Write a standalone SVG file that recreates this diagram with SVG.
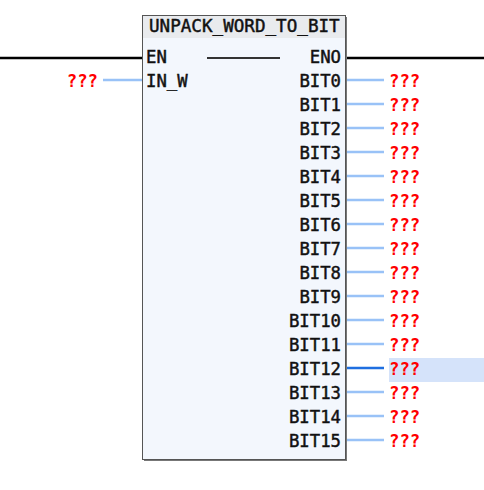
<svg xmlns="http://www.w3.org/2000/svg" width="484" height="490" viewBox="0 0 484 490">
<style>
.t{font-family:"DejaVu Sans Mono","Liberation Mono",monospace;font-size:17.3px;fill:#111;stroke:#111;stroke-width:0.45}
.q{font-family:"DejaVu Sans Mono","Liberation Mono",monospace;font-size:17.3px;fill:#f00;font-weight:bold}
.r{text-anchor:end}
.w{stroke:#99c2f7;stroke-width:2.5;fill:none}
.p{stroke:#000;stroke-width:2.5;fill:none}
</style>
<rect width="484" height="490" fill="#fff"/>
<g id="connectors">
<line class="p" x1="0" y1="58" x2="142" y2="58"/>
<line class="p" x1="346" y1="58" x2="484" y2="58"/>
<line class="w" x1="103" y1="80" x2="142" y2="80"/>
<line class="w" x1="346" y1="80" x2="384" y2="80"/>
<line class="w" x1="346" y1="104" x2="384" y2="104"/>
<line class="w" x1="346" y1="128" x2="384" y2="128"/>
<line class="w" x1="346" y1="152" x2="384" y2="152"/>
<line class="w" x1="346" y1="176" x2="384" y2="176"/>
<line class="w" x1="346" y1="200" x2="384" y2="200"/>
<line class="w" x1="346" y1="224" x2="384" y2="224"/>
<line class="w" x1="346" y1="248" x2="384" y2="248"/>
<line class="w" x1="346" y1="272" x2="384" y2="272"/>
<line class="w" x1="346" y1="296" x2="384" y2="296"/>
<line class="w" x1="346" y1="320" x2="384" y2="320"/>
<line class="w" x1="346" y1="344" x2="384" y2="344"/>
<line x1="346" y1="368" x2="384" y2="368" stroke="#1f6fe0" stroke-width="2.5"/>
<line class="w" x1="346" y1="392" x2="384" y2="392"/>
<line class="w" x1="346" y1="416" x2="384" y2="416"/>
<line class="w" x1="346" y1="440" x2="384" y2="440"/>
</g>
<g id="block">
<rect x="144" y="17" width="203" height="444" fill="#777"/>
<rect x="142.5" y="15.5" width="203" height="444" fill="#f3f7fd" stroke="#555" stroke-width="1"/>
<rect x="143" y="16" width="202" height="22" fill="#e9ebee"/>
<text class="t" x="149" y="32" style="font-size:17.6px">UNPACK_WORD_TO_BIT</text>
<line x1="207" y1="58" x2="280" y2="58" stroke="#333" stroke-width="2"/>
<text class="t" x="146" y="63">EN</text>
<text class="t" x="146" y="87">IN_W</text>
<text class="t r" x="341" y="63">ENO</text>
<text class="t r" x="341" y="87">BIT0</text>
<text class="t r" x="341" y="111">BIT1</text>
<text class="t r" x="341" y="135">BIT2</text>
<text class="t r" x="341" y="159">BIT3</text>
<text class="t r" x="341" y="183">BIT4</text>
<text class="t r" x="341" y="207">BIT5</text>
<text class="t r" x="341" y="231">BIT6</text>
<text class="t r" x="341" y="255">BIT7</text>
<text class="t r" x="341" y="279">BIT8</text>
<text class="t r" x="341" y="303">BIT9</text>
<text class="t r" x="341" y="327">BIT10</text>
<text class="t r" x="341" y="351">BIT11</text>
<text class="t r" x="341" y="375">BIT12</text>
<text class="t r" x="341" y="399">BIT13</text>
<text class="t r" x="341" y="423">BIT14</text>
<text class="t r" x="341" y="447">BIT15</text>
</g>
<g id="values">
<rect x="389" y="358" width="95" height="24" fill="#d5e3fa"/>
<text class="q r" x="98" y="87">???</text>
<text class="q" x="389" y="87">???</text>
<text class="q" x="389" y="111">???</text>
<text class="q" x="389" y="135">???</text>
<text class="q" x="389" y="159">???</text>
<text class="q" x="389" y="183">???</text>
<text class="q" x="389" y="207">???</text>
<text class="q" x="389" y="231">???</text>
<text class="q" x="389" y="255">???</text>
<text class="q" x="389" y="279">???</text>
<text class="q" x="389" y="303">???</text>
<text class="q" x="389" y="327">???</text>
<text class="q" x="389" y="351">???</text>
<text class="q" x="389" y="375">???</text>
<text class="q" x="389" y="399">???</text>
<text class="q" x="389" y="423">???</text>
<text class="q" x="389" y="447">???</text>
</g>
</svg>
